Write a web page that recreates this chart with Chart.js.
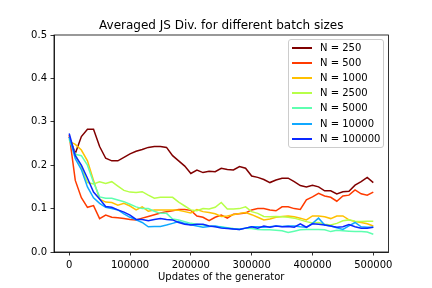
<!DOCTYPE html>
<html>
<head>
<meta charset="utf-8">
<script src="https://cdn.jsdelivr.net/npm/chart.js@4.4.1/dist/chart.umd.min.js"></script>
<style>
  html, body { margin: 0; padding: 0; background: #fff; }
  #wrap { position: relative; width: 432px; height: 288px; }
  #legend { position: absolute; left: 288px; top: 39px; width: 96px; height: 109px;
    border: 1px solid rgba(204,204,204,1); border-radius: 3px; background: rgba(255,255,255,0.8);
    font-family: "DejaVu Sans", sans-serif; font-size: 10px; color: #000; box-sizing: border-box; }
  .row { position: absolute; left: 0; height: 14px; width: 100%; }
  .swatch { position: absolute; left: 3px; top: 6px; width: 20px; height: 2px; }
  .lbl { position: absolute; left: 31px; top: 0px; line-height: 14px; white-space: nowrap; }
</style>
</head>
<body>
<div id="wrap">
  <canvas id="c" width="432" height="288"></canvas>
  <div id="legend"></div>
</div>
<script>
const updates = [0,10000,20000,30000,40000,50000,60000,70000,80000,90000,
  100000,110000,120000,130000,140000,150000,160000,170000,180000,190000,
  200000,210000,220000,230000,240000,250000,260000,270000,280000,290000,
  300000,310000,320000,330000,340000,350000,360000,370000,380000,390000,
  400000,410000,420000,430000,440000,450000,460000,470000,480000,490000,500000];

const seriesLabels = ["N = 250","N = 500","N = 1000","N = 2500","N = 5000","N = 10000","N = 100000"];
const seriesColors = ["#800000","#ff3b00","#ffc000","#b7ff48","#5effb0","#10a8ff","#0a28ff"];

const n250 = [0.265,0.227,0.266,0.283,0.283,0.243,0.216,0.21,0.21,0.218,
  0.226,0.232,0.236,0.241,0.243,0.243,0.241,0.222,0.21,0.198,
  0.181,0.189,0.183,0.186,0.185,0.193,0.19,0.189,0.197,0.193,
  0.175,0.172,0.167,0.16,0.166,0.17,0.17,0.162,0.153,0.15,
  0.154,0.15,0.141,0.141,0.134,0.139,0.14,0.154,0.162,0.172,0.16];
const n500 = [0.27,0.165,0.125,0.103,0.107,0.077,0.085,0.08,0.079,0.077,
  0.075,0.074,0.078,0.082,0.086,0.09,0.093,0.095,0.098,0.098,
  0.096,0.083,0.08,0.072,0.08,0.085,0.078,0.087,0.088,0.09,
  0.097,0.1,0.1,0.097,0.095,0.104,0.104,0.1,0.098,0.12,
  0.127,0.135,0.129,0.126,0.117,0.129,0.131,0.143,0.134,0.131,0.138];
const n1000 = [0.255,0.248,0.235,0.21,0.165,0.122,0.115,0.114,0.108,0.112,
  0.106,0.097,0.104,0.094,0.097,0.097,0.097,0.097,0.096,0.093,
  0.09,0.098,0.093,0.091,0.088,0.082,0.083,0.086,0.089,0.091,
  0.086,0.08,0.074,0.076,0.08,0.082,0.083,0.081,0.078,0.074,
  0.083,0.083,0.081,0.077,0.083,0.083,0.074,0.07,0.068,0.065,0.06];
const n2500 = [0.26,0.225,0.195,0.16,0.157,0.162,0.158,0.162,0.152,0.142,
  0.138,0.137,0.139,0.131,0.124,0.126,0.126,0.126,0.115,0.106,
  0.097,0.095,0.1,0.099,0.103,0.114,0.099,0.099,0.1,0.104,
  0.093,0.089,0.082,0.081,0.082,0.081,0.08,0.078,0.074,0.07,
  0.067,0.068,0.064,0.062,0.066,0.072,0.074,0.071,0.07,0.071,0.071];
const n5000 = [0.26,0.225,0.222,0.2,0.16,0.127,0.124,0.124,0.12,0.116,
  0.11,0.104,0.1,0.1,0.094,0.089,0.089,0.076,0.074,0.07,
  0.066,0.064,0.062,0.06,0.059,0.058,0.056,0.054,0.053,0.055,
  0.054,0.052,0.051,0.051,0.05,0.049,0.045,0.048,0.051,0.052,
  0.052,0.052,0.051,0.047,0.05,0.049,0.048,0.047,0.047,0.046,0.041];
const n10000 = [0.265,0.215,0.19,0.15,0.125,0.112,0.103,0.1,0.097,0.088,
  0.08,0.074,0.068,0.058,0.059,0.059,0.062,0.066,0.07,0.066,
  0.063,0.06,0.057,0.059,0.06,0.057,0.055,0.053,0.052,0.055,
  0.058,0.058,0.057,0.058,0.06,0.059,0.06,0.06,0.058,0.057,
  0.066,0.078,0.062,0.06,0.056,0.052,0.06,0.068,0.058,0.057,0.057];
const n100000 = [0.273,0.222,0.2,0.17,0.138,0.122,0.105,0.103,0.097,0.092,
  0.085,0.075,0.075,0.072,0.075,0.077,0.075,0.074,0.068,0.064,
  0.062,0.064,0.064,0.06,0.058,0.055,0.054,0.053,0.052,0.055,
  0.058,0.055,0.06,0.057,0.06,0.058,0.059,0.057,0.065,0.057,
  0.065,0.064,0.062,0.06,0.057,0.058,0.063,0.058,0.055,0.055,0.057];

const xTicks = [0,100000,200000,300000,400000,500000];
const yTicks = [0.0,0.1,0.2,0.3,0.4,0.5];
const titleText = "Averaged JS Div. for different batch sizes";
const xTitle = "Updates of the generator";

const allSeries = [n250,n500,n1000,n2500,n5000,n10000,n100000];
const datasets = allSeries.map((vals, i) => ({
  label: seriesLabels[i],
  data: vals.map((v, j) => ({x: updates[j], y: v})),
  borderColor: seriesColors[i],
  backgroundColor: seriesColors[i],
  borderWidth: 1.5,
  pointRadius: 0,
  tension: 0,
  fill: false,
  order: allSeries.length - i
}));

const FONT = "'DejaVu Sans', sans-serif";

const framePlugin = {
  id: 'frame',
  afterDatasetsDraw(chart) {
    const {ctx, chartArea: a} = chart;
    ctx.save();
    ctx.strokeStyle = '#000';
    ctx.lineWidth = 0.8;
    ctx.strokeRect(a.left, a.top, a.right - a.left, a.bottom - a.top);
    ctx.restore();
  }
};

new Chart(document.getElementById('c'), {
  type: 'line',
  data: { datasets },
  plugins: [framePlugin],
  options: {
    responsive: false,
    animation: false,
    devicePixelRatio: 1,
    layout: { padding: { left: 0, right: 43.5, top: 0, bottom: 0 } },
    plugins: {
      legend: { display: false },
      tooltip: { enabled: false },
      title: {
        display: true, text: titleText, fullSize: false,
        color: '#000',
        font: { family: FONT, size: 12, weight: 'normal', lineHeight: 1.2 },
        padding: { top: 18.5, bottom: 2.1 }
      }
    },
    scales: {
      x: {
        type: 'linear', min: -25000, max: 525000,
        afterFit(s) { s.height = 36; },
        afterBuildTicks(s) { s.ticks = xTicks.map(v => ({value: v})); },
        grid: { drawOnChartArea: false, drawTicks: true, tickLength: 3.5, color: '#000', lineWidth: 0.8 },
        border: { display: true, color: '#000', width: 0.8 },
        ticks: { color: '#000', font: { family: FONT, size: 10 }, padding: 3.5, maxRotation: 0,
          callback: v => String(v) },
        title: { display: true, text: xTitle, color: '#000',
          font: { family: FONT, size: 10, lineHeight: 1.2 }, padding: { top: 0, bottom: 4.5 } }
      },
      y: {
        type: 'linear', min: 0, max: 0.5,
        afterFit(s) { s.width = 54; },
        afterBuildTicks(s) { s.ticks = yTicks.map(v => ({value: v})); },
        grid: { drawOnChartArea: false, drawTicks: true, tickLength: 3.5, color: '#000', lineWidth: 0.8 },
        border: { display: true, color: '#000', width: 0.8 },
        ticks: { color: '#000', font: { family: FONT, size: 10 }, padding: 3.5,
          callback: v => Number(v).toFixed(1) }
      }
    }
  }
});

// HTML legend built from the datasets
const leg = document.getElementById('legend');
seriesLabels.forEach((lab, i) => {
  const row = document.createElement('div');
  row.className = 'row';
  row.style.top = (0.5 + 15.2 * i) + 'px';
  const sw = document.createElement('div');
  sw.className = 'swatch';
  sw.style.background = seriesColors[i];
  const t = document.createElement('div');
  t.className = 'lbl';
  t.textContent = lab;
  row.appendChild(sw); row.appendChild(t);
  leg.appendChild(row);
});
</script>
</body>
</html>
